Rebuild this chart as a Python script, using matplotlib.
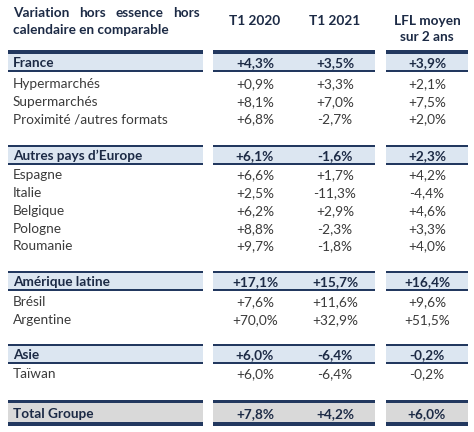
import matplotlib
matplotlib.use("Agg")
import matplotlib.pyplot as plt
from matplotlib.patches import Rectangle

# ---- data ----
col_headers = ["T1 2020", "T1 2021", "LFL moyen\nsur 2 ans"]
title_lines = ["Variation hors essence hors", "calendaire en comparable"]

row_labels = ["France", "Hypermarchés", "Supermarchés", "Proximité /autres formats",
              "Autres pays d\u2019Europe", "Espagne", "Italie", "Belgique", "Pologne", "Roumanie",
              "Amérique latine", "Brésil", "Argentine",
              "Asie", "Taïwan",
              "Total Groupe"]
row_kind = ["group", "item", "item", "item",
            "group", "item", "item", "item", "item", "item",
            "group", "item", "item",
            "group", "item",
            "total"]
t1_2020 = ["+4,3%", "+0,9%", "+8,1%", "+6,8%",
           "+6,1%", "+6,6%", "+2,5%", "+6,2%", "+8,8%", "+9,7%",
           "+17,1%", "+7,6%", "+70,0%",
           "+6,0%", "+6,0%",
           "+7,8%"]
t1_2021 = ["+3,5%", "+3,3%", "+7,0%", "-2,7%",
           "-1,6%", "+1,7%", "-11,3%", "+2,9%", "-2,3%", "-1,8%",
           "+15,7%", "+11,6%", "+32,9%",
           "-6,4%", "-6,4%",
           "+4,2%"]
lfl_2ans = ["+3,9%", "+2,1%", "+7,5%", "+2,0%",
            "+2,3%", "+4,2%", "-4,4%", "+4,6%", "+3,3%", "+4,0%",
            "+16,4%", "+9,6%", "+51,5%",
            "-0,2%", "-0,2%",
            "+6,0%"]

# ---- layout (pixels) ----
W, H = 474, 432
row_y = [62, 83, 101, 118,
         155, 174, 192, 210, 228, 245,
         281, 301, 319,
         354, 373,
         413]
blocks = [(8, 203), (213, 375), (386, 468)]
col_x = [255, 335, 427]
label_x = 13

NAVY = "#22385f"
BAND = "#dce6f1"
GRAY = "#d9d9d9"
TXT = "#3b3b3b"
BOLD_TXT = "#1c2a45"

plt.rcParams['font.family'] = ['Lato', 'DejaVu Sans']
fig = plt.figure(figsize=(W / 100, H / 100), dpi=100)
ax = fig.add_axes([0, 0, 1, 1])
ax.set_xlim(0, W)
ax.set_ylim(H, 0)
ax.axis("off")

FS = 9.8

def rect(x0, x1, y0, y1, color):
    ax.add_patch(Rectangle((x0, y0), x1 - x0, y1 - y0, facecolor=color, edgecolor="none", lw=0))

for label, kind, y, a, b, c in zip(row_labels, row_kind, row_y, t1_2020, t1_2021, lfl_2ans):
    bold = kind in ("group", "total")
    if kind == "group":
        for x0, x1 in blocks:
            top_t = 4 if label == "France" else 2
            rect(x0, x1, y - 8, y + 8, BAND)
            rect(x0, x1, y - 8 - top_t, y - 8, NAVY)
            rect(x0, x1, y + 8, y + 10, NAVY)
    elif kind == "total":
        for x0, x1 in blocks:
            rect(x0, x1, y - 10, y + 9, GRAY)
            rect(x0, x1, y - 13, y - 10, NAVY)
            rect(x0, x1, y + 9, y + 13, NAVY)
    color = BOLD_TXT if bold else TXT
    weight = "bold" if bold else "normal"
    ax.text(label_x, y, label, ha="left", va="center_baseline", fontsize=FS,
            fontweight=weight, color=color)
    for xc, v in zip(col_x, (a, b, c)):
        ax.text(xc, y, v, ha="center", va="center_baseline", fontsize=FS,
                fontweight=weight, color=color)

# column headers
ax.text(col_x[0], 20, col_headers[0], ha="center", va="center_baseline", fontsize=FS,
        fontweight="bold", color=BOLD_TXT)
ax.text(col_x[1], 20, col_headers[1], ha="center", va="center_baseline", fontsize=FS,
        fontweight="bold", color=BOLD_TXT)
for i, line in enumerate(col_headers[2].split("\n")):
    ax.text(col_x[2], 20 + 16 * i, line, ha="center", va="center_baseline", fontsize=FS,
            fontweight="bold", color=BOLD_TXT)

# justified title
fig.canvas.draw()
renderer = fig.canvas.get_renderer()
words = title_lines[0].split(" ")
widths = []
for w in words:
    t = ax.text(0, 0, w, fontsize=FS, fontweight="bold")
    bb = t.get_window_extent(renderer)
    widths.append(bb.width)
    t.remove()
right = 200
gap = (right - label_x - sum(widths)) / (len(words) - 1)
x = label_x
for w, wd in zip(words, widths):
    ax.text(x, 12, w, ha="left", va="center_baseline", fontsize=FS, fontweight="bold", color=BOLD_TXT)
    x += wd + gap
ax.text(label_x, 29, title_lines[1], ha="left", va="center_baseline", fontsize=FS,
        fontweight="bold", color=BOLD_TXT)

fig.savefig("out.png", dpi=100)
